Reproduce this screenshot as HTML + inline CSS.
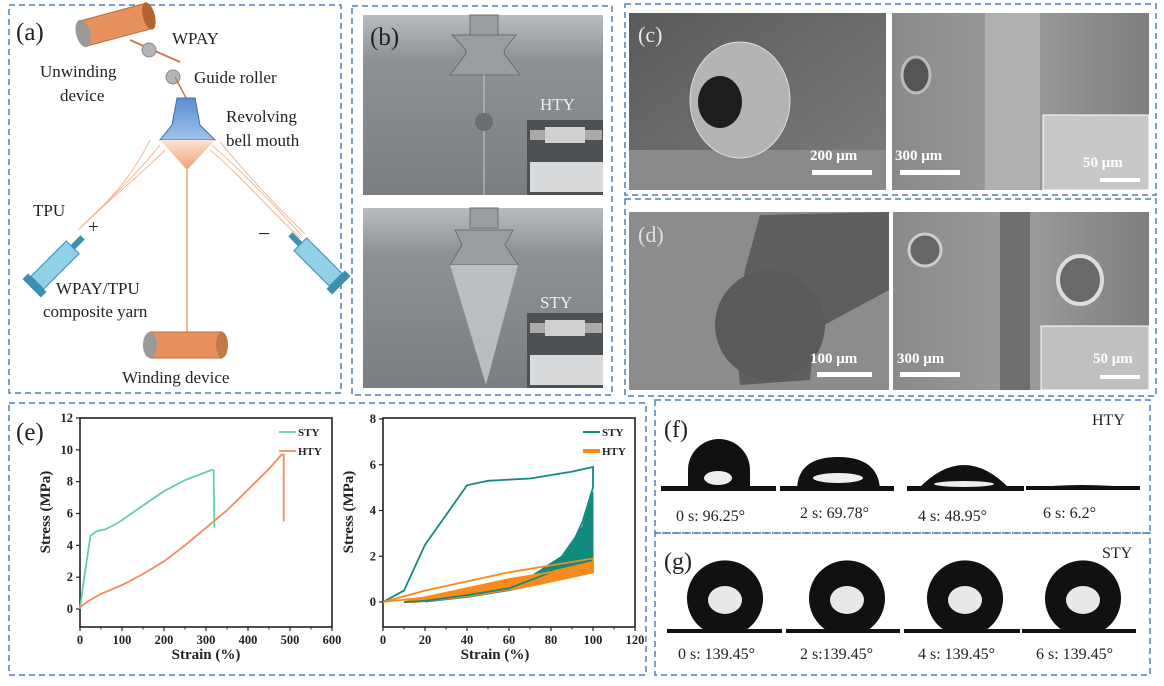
<!DOCTYPE html>
<html><head><meta charset="utf-8"><style>
html,body{margin:0;padding:0;background:#fff;}
svg{display:block;}
text{font-family:"Liberation Serif",serif;}
</style></head><body>
<svg id="fig" width="1164" height="686" viewBox="0 0 1164 686" xmlns="http://www.w3.org/2000/svg">
<defs>
<linearGradient id="gb" x1="0" y1="0" x2="0" y2="1"><stop offset="0" stop-color="#b9bcbf"/><stop offset="0.25" stop-color="#8e9296"/><stop offset="1" stop-color="#7a7e82"/></linearGradient>
<linearGradient id="sem" x1="0" y1="0" x2="1" y2="1"><stop offset="0" stop-color="#5a5a5a"/><stop offset="1" stop-color="#7d7d7d"/></linearGradient>
<linearGradient id="sem2" x1="0" y1="0" x2="1" y2="0"><stop offset="0" stop-color="#8a8a8a"/><stop offset="0.5" stop-color="#9c9c9c"/><stop offset="1" stop-color="#7e7e7e"/></linearGradient>
<linearGradient id="bell" x1="0" y1="0" x2="0" y2="1"><stop offset="0" stop-color="#5b8fd0"/><stop offset="1" stop-color="#9fc3ea"/></linearGradient>
<linearGradient id="cone" x1="0" y1="0" x2="0" y2="1"><stop offset="0" stop-color="#fbe3d4"/><stop offset="1" stop-color="#f0a070"/></linearGradient>
</defs>

<g fill="none" stroke="#4f7fb4" stroke-width="1.5" stroke-dasharray="6,4">
<rect x="9" y="5" width="332" height="388"/>
<rect x="352" y="6" width="260" height="389"/>
<rect x="625" y="4" width="531" height="191"/>
<rect x="625" y="199" width="531" height="197"/>
<rect x="9" y="403" width="637" height="272"/>
<rect x="655" y="400" width="495" height="133"/>
<rect x="655" y="533" width="495" height="142"/>
</g>

<g>
<g transform="rotate(-15 115 25)">
<rect x="82" y="12" width="68" height="26" fill="#e8915e" stroke="#c06a3a"/>
<ellipse cx="82" cy="25" rx="7" ry="14" fill="#999"/><ellipse cx="150" cy="25" rx="6" ry="14" fill="#b0662e"/>
</g>
<line x1="130" y1="40" x2="180" y2="62" stroke="#c87a4a" stroke-width="2"/>
<circle cx="149" cy="50" r="7" fill="#b5b5b5" stroke="#888"/>
<circle cx="173" cy="77" r="7" fill="#b5b5b5" stroke="#888"/>
<line x1="175" y1="77" x2="186" y2="98" stroke="#c87a4a" stroke-width="1.5"/>
<path d="M177 98 L195 98 L200 125 L215 140 L160 140 L172 125 Z" fill="url(#bell)" stroke="#3d6ea8"/>
<path d="M160 140 L215 140 L187 170 Z" fill="url(#cone)"/>
<line x1="187" y1="170" x2="187" y2="345" stroke="#f0a070" stroke-width="1.5"/>
<g stroke="#f2a67a" stroke-width="0.8" fill="none">
<path d="M160 145 C140 170 120 190 80 228"/><path d="M165 150 C140 175 115 195 82 226"/><path d="M150 140 C130 180 110 200 78 230"/>
<path d="M212 145 C240 170 270 200 302 236"/><path d="M210 150 C240 175 265 205 300 238"/><path d="M220 142 C250 178 275 205 305 234"/>
</g>
<g transform="rotate(-45 55 265)"><rect x="30" y="256" width="50" height="18" fill="#8fd0e6" stroke="#3d8fb0"/><rect x="80" y="262" width="14" height="6" fill="#3d8fb0"/><rect x="22" y="252" width="8" height="26" fill="#3d8fb0"/></g>
<g transform="rotate(-135 318 262)"><rect x="293" y="253" width="50" height="18" fill="#8fd0e6" stroke="#3d8fb0"/><rect x="343" y="259" width="14" height="6" fill="#3d8fb0"/><rect x="285" y="249" width="8" height="26" fill="#3d8fb0"/></g>
<g>
<rect x="150" y="332" width="72" height="26" fill="#e8915e" stroke="#c06a3a"/><ellipse cx="150" cy="345" rx="7" ry="13" fill="#999"/><ellipse cx="222" cy="345" rx="6" ry="13" fill="#c07a4a"/></g>
<g font-size="17" fill="#222">
<text x="16" y="40" font-size="25">(a)</text>
<text x="172" y="44">WPAY</text>
<text x="40" y="77">Unwinding</text>
<text x="60" y="101">device</text>
<text x="194" y="83">Guide roller</text>
<text x="226" y="122">Revolving</text>
<text x="226" y="146">bell mouth</text>
<text x="33" y="216">TPU</text>
<text x="88" y="233" font-size="19">+</text>
<text x="258" y="241" font-size="22">−</text>
<text x="56" y="294">WPAY/TPU</text>
<text x="43" y="317">composite yarn</text>
<text x="122" y="383">Winding device</text>
</g>
</g>

<g>
<rect x="363" y="15" width="240" height="180" fill="url(#gb)"/>
<rect x="363" y="208" width="240" height="180" fill="url(#gb)"/>
<g fill="#9a9ea2" stroke="#6a6e72">
<rect x="470" y="15" width="28" height="20"/><path d="M452 35 L516 35 L504 50 L505 55 L520 75 L450 75 L465 55 L466 50 Z"/>
<rect x="470" y="208" width="28" height="20"/><path d="M455 230 L513 230 L505 245 L518 265 L450 265 L462 245 Z"/>
</g>
<line x1="484" y1="75" x2="484" y2="195" stroke="#c8cacc" stroke-width="1"/>
<circle cx="484" cy="122" r="9" fill="#6a6e72"/>
<path d="M450 265 L518 265 L486 385 Z" fill="#c8cbce" opacity="0.8"/>
<rect x="527" y="120" width="76" height="75" fill="#4e5154"/>
<rect x="530" y="130" width="72" height="10" fill="#aaa"/><rect x="545" y="127" width="40" height="16" fill="#d0d0d0"/>
<rect x="530" y="162" width="73" height="30" fill="#d8dadc"/>
<rect x="527" y="313" width="76" height="75" fill="#4e5154"/>
<rect x="530" y="323" width="72" height="10" fill="#aaa"/><rect x="545" y="320" width="40" height="16" fill="#d0d0d0"/>
<rect x="530" y="355" width="73" height="30" fill="#d8dadc"/>
<text x="370" y="45" font-size="25" fill="#222">(b)</text>
<text x="540" y="110" font-size="17" fill="#eee">HTY</text>
<text x="540" y="308" font-size="17" fill="#eee">STY</text>
</g>

<g>
<rect x="629" y="13" width="257" height="177" fill="url(#sem)"/>
<rect x="629" y="150" width="257" height="40" fill="#8a8a8a"/>
<ellipse cx="740" cy="100" rx="50" ry="58" fill="#b4b4b4" stroke="#ddd"/>
<ellipse cx="720" cy="102" rx="22" ry="26" fill="#1e1e1e"/>
<rect x="892" y="13" width="257" height="177" fill="url(#sem2)"/>
<rect x="985" y="13" width="55" height="177" fill="#b0b0b0"/>
<ellipse cx="916" cy="75" rx="14" ry="18" fill="#555" stroke="#bbb" stroke-width="3"/>
<rect x="1043" y="115" width="106" height="75" fill="#c8c8c8" stroke="#fff"/>
<text x="638" y="42" font-size="22" fill="#e8e8e8">(c)</text>
<g font-size="15" fill="#fff" font-weight="bold">
<text x="810" y="160">200 μm</text>
<text x="895" y="160">300 μm</text>
<text x="1083" y="167">50 μm</text>
</g>
<rect x="812" y="170" width="60" height="5" fill="#fff"/><rect x="900" y="170" width="60" height="5" fill="#fff"/><rect x="1100" y="178" width="40" height="4" fill="#fff"/>
</g>
<g>
<rect x="629" y="212" width="260" height="178" fill="#8c8c8c"/>
<path d="M760 215 L889 212 L889 290 L815 330 L810 380 L740 385 L735 330 L745 270 Z" fill="#5e5e5e"/>
<ellipse cx="770" cy="325" rx="55" ry="55" fill="#5a5a5a"/>
<rect x="893" y="212" width="256" height="178" fill="url(#sem2)"/>
<rect x="1000" y="212" width="30" height="178" fill="#6e6e6e"/>
<ellipse cx="925" cy="250" rx="16" ry="16" fill="#666" stroke="#ccc" stroke-width="3"/>
<ellipse cx="1080" cy="280" rx="22" ry="24" fill="#6a6a6a" stroke="#ddd" stroke-width="4"/>
<rect x="1041" y="326" width="108" height="64" fill="#c0c0c0" stroke="#fff"/>
<text x="638" y="242" font-size="22" fill="#e0e0e0">(d)</text>
<g font-size="15" fill="#fff" font-weight="bold">
<text x="810" y="363">100 μm</text>
<text x="897" y="363">300 μm</text>
<text x="1093" y="363">50 μm</text>
</g>
<rect x="817" y="372" width="55" height="5" fill="#fff"/><rect x="900" y="372" width="60" height="5" fill="#fff"/><rect x="1100" y="375" width="40" height="4" fill="#fff"/>
</g>

<g>
<text x="664" y="437" font-size="24" fill="#222">(f)</text>
<text x="1092" y="425" font-size="16" fill="#222">HTY</text>
<g fill="#111">
<rect x="661" y="486" width="115" height="5"/>
<rect x="780" y="486" width="114" height="5"/><rect x="907" y="486" width="117" height="5"/><rect x="1026" y="486" width="114" height="4"/>
<path d="M688 489 L688 470 A31 31 0 0 1 750 470 L750 489 Z"/>
<path d="M797 489 Q798 457 838 457 Q878 457 880 489 Z"/>
<path d="M918 489 Q964 441 1010 489 Z"/>
<path d="M1030 488 Q1080 482 1138 488 Z"/>
</g>
<g fill="#eee"><ellipse cx="718" cy="478" rx="14" ry="7"/><ellipse cx="838" cy="478" rx="25" ry="5"/><ellipse cx="964" cy="484" rx="30" ry="3"/></g>
<g font-size="16" fill="#222">
<text x="676" y="521">0 s: 96.25°</text>
<text x="800" y="518">2 s: 69.78°</text>
<text x="918" y="521">4 s: 48.95°</text>
<text x="1043" y="518">6 s: 6.2°</text>
</g>
</g>
<g>
<text x="664" y="569" font-size="24" fill="#222">(g)</text>
<text x="1102" y="558" font-size="16" fill="#222">STY</text>
<g fill="#111">
<rect x="667" y="629" width="115" height="4"/><rect x="786" y="629" width="114" height="4"/><rect x="904" y="629" width="116" height="4"/><rect x="1022" y="629" width="114" height="4"/>
<path d="M704 630 A38 38 0 1 1 746 630 Z"/>
<path d="M826 630 A38 38 0 1 1 868 630 Z"/>
<path d="M944 630 A38 38 0 1 1 986 630 Z"/>
<path d="M1062 630 A38 38 0 1 1 1104 630 Z"/>
</g>
<g fill="#e8e8e8"><ellipse cx="725" cy="600" rx="17" ry="14"/><ellipse cx="847" cy="600" rx="17" ry="14"/><ellipse cx="965" cy="600" rx="17" ry="14"/><ellipse cx="1083" cy="600" rx="17" ry="14"/></g>
<g font-size="16" fill="#222">
<text x="678" y="659">0 s: 139.45°</text>
<text x="800" y="659">2 s:139.45°</text>
<text x="918" y="659">4 s: 139.45°</text>
<text x="1036" y="659">6 s: 139.45°</text>
</g>
</g>

<text x="16" y="440" font-size="25" fill="#222">(e)</text>
<g id="charts"></g>
</svg>
<script>
// Chart 1: tensile
const c1XTicks = [0,100,200,300,400,500,600];
const c1YTicks = [0,2,4,6,8,10,12];
const c1StyX = [0,10,25,40,60,90,150,200,250,300,315,318,320];
const c1StyY = [0,2,4.6,4.9,5.0,5.4,6.5,7.4,8.1,8.6,8.75,8.7,5.1];
const c1HtyX = [0,20,50,100,150,200,250,300,350,400,450,480,485,485];
const c1HtyY = [0.1,0.5,0.95,1.5,2.2,3.0,4.0,5.1,6.2,7.5,8.8,9.7,9.7,5.5];
// Chart 2: cyclic
const c2XTicks = [0,20,40,60,80,100,120];
const c2YTicks = [0,2,4,6,8];
const c2StyLoadX = [0,10,20,30,40,50,70,90,100,100,95,90,80,60,40,20,10];
const c2StyLoadY = [0,0.5,2.5,3.8,5.1,5.3,5.4,5.7,5.9,5.0,3.5,2.5,1.3,0.6,0.3,0.05,0];
const c2StyBandX = [20,50,70,85,95,100,100,85,60,40,20];
const c2StyBandY = [0,0.6,1.1,2.0,3.3,4.8,1.5,1.0,0.5,0.2,0];
const c2HtyLoadX = [0,20,40,60,80,100,100,80,60,40,20,0];
const c2HtyLoadY = [0,0.5,0.9,1.3,1.6,1.9,1.5,1.3,1.0,0.6,0.2,0];
const c2HtyBandX = [10,40,70,100,100,70,40,15];
const c2HtyBandY = [0,0.6,1.1,1.75,1.3,0.7,0.25,0];

const NS = 'http://www.w3.org/2000/svg';
const root = document.getElementById('charts');
function mk(tag, attrs, parent){const e=document.createElementNS(NS,tag);for(const k in attrs)e.setAttribute(k,attrs[k]);(parent||root).appendChild(e);return e;}

function drawAxes(g, sx, sy, L, R, T, B, xt, yt, xminor){
  const f = mk('rect',{x:L,y:T,width:R-L,height:B-T,fill:'none',stroke:'#222','stroke-width':1.6},g);
  
  
  xt.forEach(v=>{
    const x=sx(v);
    mk('line',{x1:x,y1:B,x2:x,y2:B+4,stroke:'#222','stroke-width':1.2},g);
    if(xminor){const xm=sx(v+xminor); if(xm<R) mk('line',{x1:xm,y1:B,x2:xm,y2:B+2.5,stroke:'#222','stroke-width':1},g);}
    const t=mk('text',{x:x,y:B+17,'font-size':12.5,'font-weight':'bold','text-anchor':'middle',fill:'#222'},g);
    t.textContent=v;
    
    
  });
  yt.forEach(v=>{
    const y=sy(v);
    mk('line',{x1:L-4,y1:y,x2:L,y2:y,stroke:'#222','stroke-width':1.2},g);
    const t=mk('text',{x:L-7,y:y+4,'font-size':12.5,'font-weight':'bold','text-anchor':'end',fill:'#222'},g);
    t.textContent=v;
    
    
  });
}
function pts(xs,ys,sx,sy){return xs.map((x,i)=>sx(x).toFixed(1)+','+sy(ys[i]).toFixed(1)).join(' ');}
function title(g,txt,x,y,rot,name){
  const t=mk('text',{x:x,y:y,'font-size':15,'font-weight':'bold','text-anchor':'middle',fill:'#222'},g);
  if(rot) t.setAttribute('transform','rotate(-90 '+x+' '+y+')');
  t.textContent=txt;
  
  
}
function legend(g,x,y,col,txt,w,name){
  mk('line',{x1:x,y1:y-4,x2:x+17,y2:y-4,stroke:col,'stroke-width':w},g);
  const t=mk('text',{x:x+19,y:y,'font-size':11,'font-weight':'bold',fill:'#222'},g);
  t.textContent=txt;
  
  
}

const g1 = mk('g',{});


const sx1=v=>80+v/600*252, sy1=v=>609-v/12*191;
drawAxes(g1,sx1,sy1,80,332,418,627,c1XTicks,c1YTicks,50);
const l1a=mk('polyline',{points:pts(c1StyX,c1StyY,sx1,sy1),fill:'none',stroke:'#63d1a2','stroke-width':1.8},g1);


const l1b=mk('polyline',{points:pts(c1HtyX,c1HtyY,sx1,sy1),fill:'none',stroke:'#f5895c','stroke-width':1.8},g1);


legend(g1,279,436,'#63d1a2','STY',1.8,'legend-sty');
legend(g1,279,455,'#f5895c','HTY',1.8,'legend-hty');
title(g1,'Stress (MPa)',50,512,true,'y-axis-title');
title(g1,'Strain (%)',206,659,false,'x-axis-title');

const g2 = mk('g',{});


const sx2=v=>383+v/120*252, sy2=v=>602-v/8*183;
drawAxes(g2,sx2,sy2,383,635,418,627,c2XTicks,c2YTicks,10);
const b1=mk('polygon',{points:pts(c2StyBandX,c2StyBandY,sx2,sy2),fill:'#128a7e',stroke:'#128a7e','stroke-width':1},g2);


const b2=mk('polygon',{points:pts(c2HtyBandX,c2HtyBandY,sx2,sy2),fill:'#f98a1c',stroke:'#f98a1c','stroke-width':2},g2);


const l2a=mk('polyline',{points:pts(c2StyLoadX,c2StyLoadY,sx2,sy2),fill:'none',stroke:'#128a7e','stroke-width':1.8},g2);


const l2b=mk('polyline',{points:pts(c2HtyLoadX,c2HtyLoadY,sx2,sy2),fill:'none',stroke:'#f98a1c','stroke-width':1.8},g2);


legend(g2,583,436,'#128a7e','STY',2,'legend-sty-cyclic');
legend(g2,583,455,'#f98a1c','HTY',4,'legend-hty-cyclic');
title(g2,'Stress (MPa)',353,512,true,'y-axis-title-cyclic');
title(g2,'Strain (%)',495,659,false,'x-axis-title-cyclic');
</script>
</body></html>
